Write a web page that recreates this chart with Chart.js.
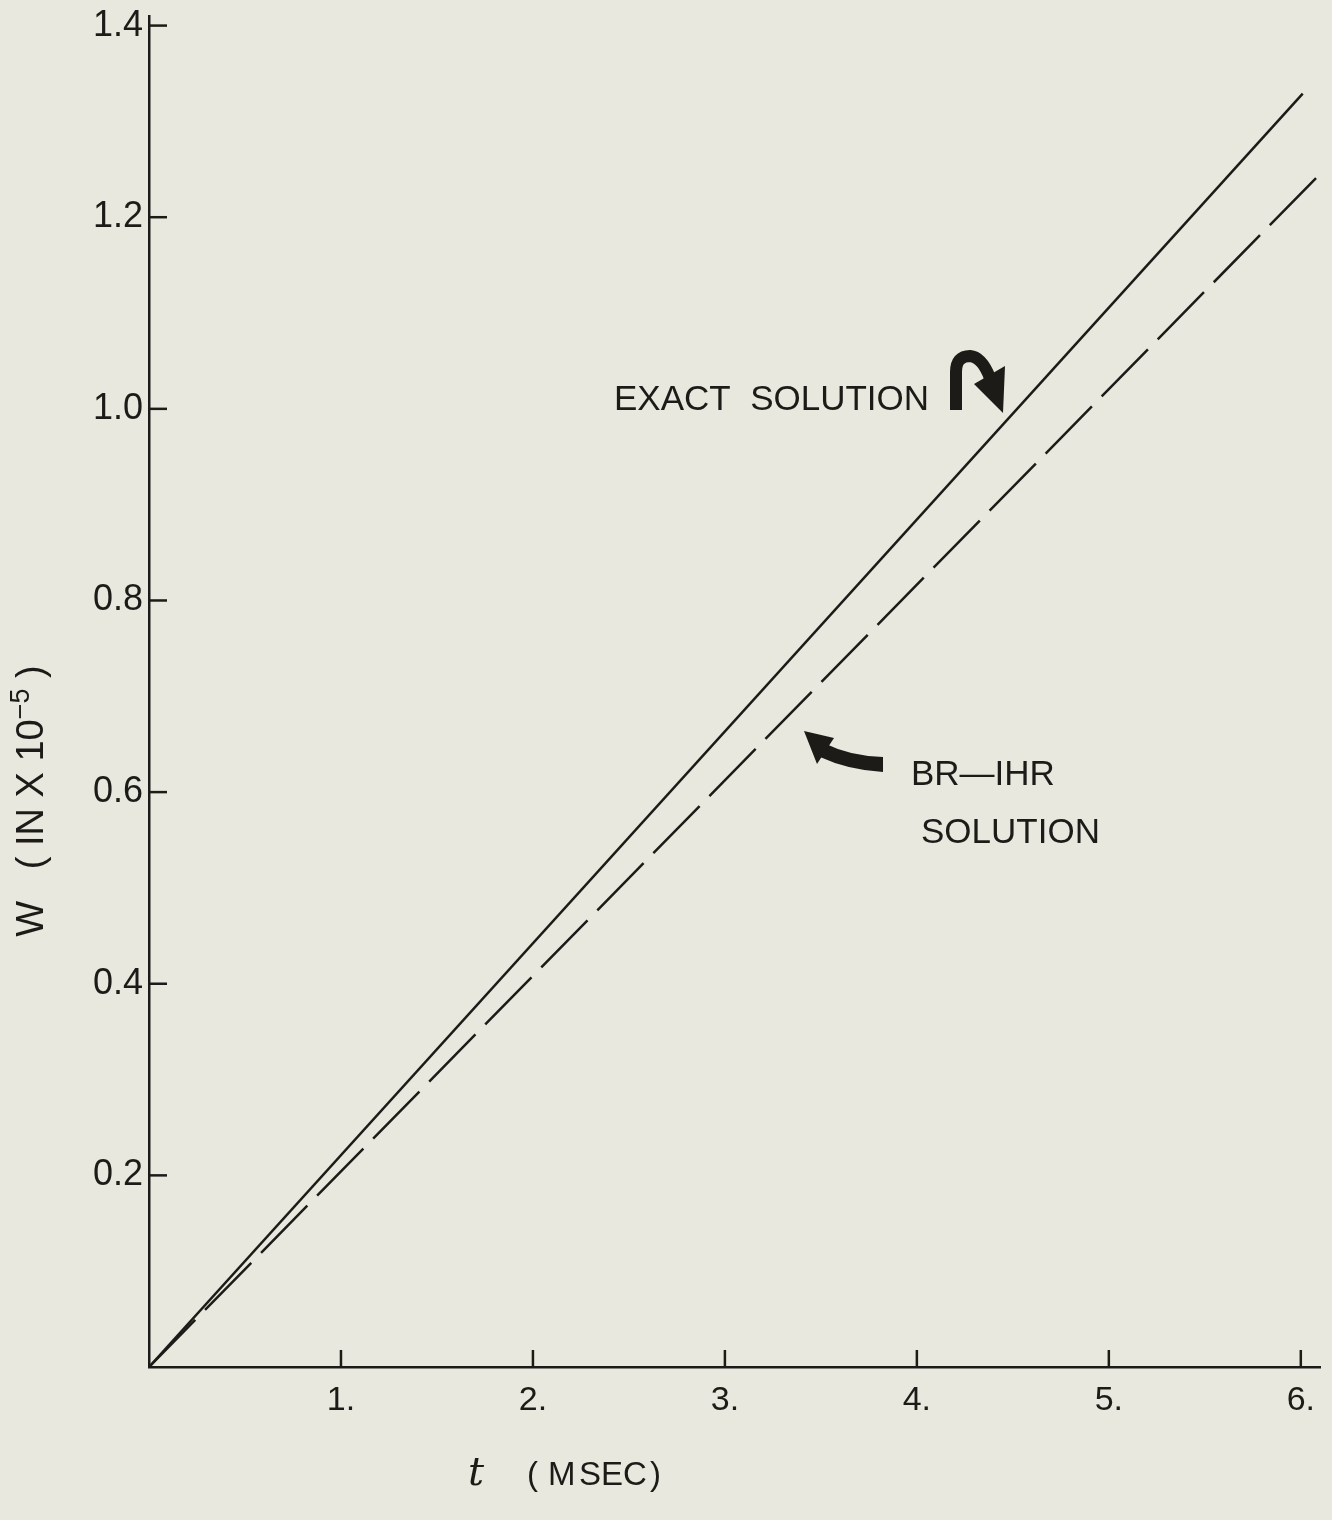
<!DOCTYPE html>
<html>
<head>
<meta charset="utf-8">
<script src="https://cdn.jsdelivr.net/npm/chart.js@4"></script>
<style>
  html, body { margin: 0; padding: 0; background: #e9e8de; }
  #wrap { width: 1332px; height: 1520px; position: relative; }
</style>
</head>
<body>
<div id="wrap"><canvas id="wChart"></canvas></div>
<script>
// Data: deflection W (in x 10^-5) vs time t (msec)
const exactT = [0, 6.01];
const exactW = [0, 1.329];
const brT = [0, 6.08];
const brW = [0, 1.241];

// Tick values and labels
const xTickValues = [1, 2, 3, 4, 5, 6];
const xTickLabels = ['1.', '2.', '3.', '4.', '5.', '6.'];
const yTickValues = [0.2, 0.4, 0.6, 0.8, 1.0, 1.2, 1.4];
const yTickLabels = ['0.2', '0.4', '0.6', '0.8', '1.0', '1.2', '1.4'];

const INK = '#1d1b18';
const FONT = '"Liberation Sans", Arial, sans-serif';

function toPoints(xs, ys) {
    return xs.map((x, i) => ({ x: x, y: ys[i] }));
}

// Inward tick marks, axis titles and the two hand drawn arrows with their notes
const decorations = {
    id: 'decorations',
    afterDraw(chart) {
        const ctx = chart.ctx;
        const xs = chart.scales.x;
        const ys = chart.scales.y;
        const x0 = xs.getPixelForValue(0);
        const y0 = ys.getPixelForValue(0);

        ctx.save();
        ctx.strokeStyle = INK;
        ctx.lineWidth = 2.5;
        ctx.lineCap = 'butt';
        yTickValues.forEach(v => {
            const py = ys.getPixelForValue(v);
            ctx.beginPath();
            ctx.moveTo(x0, py);
            ctx.lineTo(x0 + 18, py);
            ctx.stroke();
        });
        xTickValues.forEach(v => {
            const px = xs.getPixelForValue(v);
            ctx.beginPath();
            ctx.moveTo(px, y0);
            ctx.lineTo(px, y0 - 17);
            ctx.stroke();
        });

        ctx.fillStyle = INK;

        // y axis title, rotated
        ctx.save();
        ctx.translate(33, 801);
        ctx.rotate(-Math.PI / 2);
        ctx.textBaseline = 'middle';
        ctx.textAlign = 'left';
        const big = '38px ' + FONT;
        const small = '27px ' + FONT;
        ctx.font = big;
        const p1 = 'W   ( IN X 10';
        const w1 = ctx.measureText(p1).width;
        ctx.font = small;
        const p2 = '\u22125';
        const w2 = ctx.measureText(p2).width;
        ctx.font = big;
        const p3 = ' )';
        const w3 = ctx.measureText(p3).width;
        let cx = -(w1 + w2 + w3) / 2;
        ctx.fillText(p1, cx, 0);
        cx += w1;
        ctx.font = small;
        ctx.fillText(p2, cx, -11);
        cx += w2;
        ctx.font = big;
        ctx.fillText(p3, cx, 0);
        ctx.restore();

        // x axis title
        ctx.textBaseline = 'alphabetic';
        ctx.textAlign = 'left';
        ctx.font = 'italic 40px "DejaVu Serif", serif';
        ctx.fillText('t', 468, 1485);
        ctx.font = '33px ' + FONT;
        ctx.fillText('(', 527, 1485);
        ctx.fillText('M', 548, 1485);
        ctx.fillText('SEC', 579, 1485);
        ctx.fillText(')', 650, 1485);

        // notes
        ctx.font = '35px ' + FONT;
        ctx.fillText('EXACT  SOLUTION', 614, 410);
        ctx.fillText('BR\u2014IHR', 911, 785);
        ctx.fillText('SOLUTION', 921, 843);

        // hook arrow next to EXACT SOLUTION
        ctx.lineWidth = 12;
        ctx.lineCap = 'butt';
        ctx.beginPath();
        ctx.moveTo(956, 410);
        ctx.lineTo(956, 372);
        ctx.quadraticCurveTo(956, 356, 970, 356);
        ctx.quadraticCurveTo(982, 357, 990, 378);
        ctx.stroke();
        ctx.beginPath();
        ctx.moveTo(974, 384);
        ctx.lineTo(1005, 366);
        ctx.lineTo(1003, 413);
        ctx.closePath();
        ctx.fill();

        // curved arrow pointing at the dashed line
        ctx.beginPath();
        ctx.moveTo(883, 757);
        ctx.quadraticCurveTo(850, 756, 826, 744);
        ctx.lineTo(820, 757);
        ctx.quadraticCurveTo(848, 770, 883, 772);
        ctx.closePath();
        ctx.fill();
        ctx.beginPath();
        ctx.moveTo(804, 731);
        ctx.lineTo(834, 738);
        ctx.lineTo(817, 764);
        ctx.closePath();
        ctx.fill();

        ctx.restore();
    }
};

new Chart(document.getElementById('wChart').getContext('2d'), {
    type: 'scatter',
    data: {
        datasets: [
            {
                label: 'Exact solution',
                data: toPoints(exactT, exactW),
                showLine: true,
                borderColor: INK,
                borderWidth: 2.5,
                pointRadius: 0,
                fill: false
            },
            {
                label: 'BR-IHR solution',
                data: toPoints(brT, brW),
                showLine: true,
                borderColor: INK,
                borderWidth: 2.5,
                borderDash: [66, 14],
                pointRadius: 0,
                fill: false
            }
        ]
    },
    options: {
        responsive: true,
        maintainAspectRatio: false,
        animation: false,
        layout: { padding: { top: 16, right: 12, left: 0, bottom: 0 } },
        plugins: {
            legend: { display: false },
            tooltip: { enabled: false }
        },
        scales: {
            x: {
                type: 'linear',
                min: 0,
                max: 6.1,
                afterFit: s => { s.height = 153; s.paddingLeft = 0; s.paddingRight = 0; },
                afterBuildTicks: s => { s.ticks = xTickValues.map(v => ({ value: v })); },
                grid: { drawOnChartArea: false, drawTicks: false },
                border: { color: INK, width: 2.5 },
                ticks: {
                    padding: 13,
                    maxRotation: 0,
                    color: INK,
                    font: { family: FONT, size: 34 },
                    callback: (v, i) => xTickLabels[i]
                }
            },
            y: {
                type: 'linear',
                min: 0,
                max: 1.41,
                afterFit: s => { s.width = 149; s.paddingTop = 0; s.paddingBottom = 0; },
                afterBuildTicks: s => { s.ticks = yTickValues.map(v => ({ value: v })); },
                grid: { drawOnChartArea: false, drawTicks: false },
                border: { color: INK, width: 2.5 },
                ticks: {
                    padding: 6,
                    color: INK,
                    font: { family: FONT, size: 36 },
                    callback: (v, i) => yTickLabels[i]
                }
            }
        }
    },
    plugins: [decorations]
});
</script>
</body>
</html>
